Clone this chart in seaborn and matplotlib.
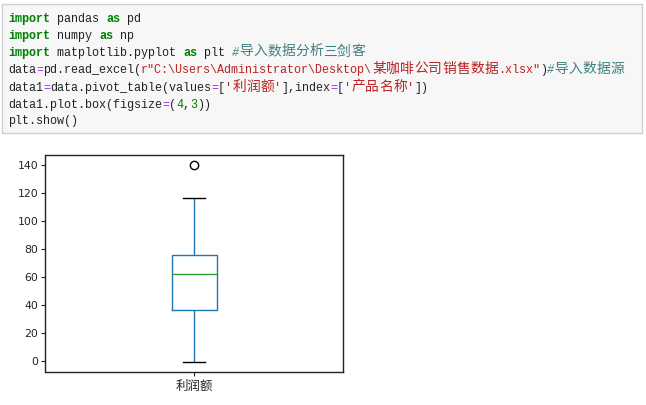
import matplotlib
matplotlib.use('Agg')
import matplotlib.pyplot as plt
from matplotlib.patches import Rectangle
import seaborn as sns
import pandas as pd

# ---------------- data ----------------
column_name = '利润额'
profit_values = [-0.7, 18.5, 36.4, 49.8, 62.2, 70.3, 75.6, 116.4, 140.0]
y_ticks = [0, 20, 40, 60, 80, 100, 120, 140]

# code cell text: (text, style)  n=normal k=keyword o=operator s=string c=comment m=number
code_lines = [
    [("import", "k"), (" pandas ", "n"), ("as", "k"), (" pd", "n")],
    [("import", "k"), (" numpy ", "n"), ("as", "k"), (" np", "n")],
    [("import", "k"), (" matplotlib.pyplot ", "n"), ("as", "k"), (" plt ", "n"),
     ("#导入数据分析三剑客", "c")],
    [("data", "n"), ("=", "o"), ("pd.read_excel(", "n"),
     ('r"C:\\Users\\Administrator\\Desktop\\某咖啡公司销售数据.xlsx"', "s"),
     (")", "n"), ("#导入数据源", "c")],
    [("data1", "n"), ("=", "o"), ("data.pivot_table(values", "n"), ("=", "o"), ("[", "n"),
     ("'利润额'", "s"), ("],index", "n"), ("=", "o"), ("[", "n"), ("'产品名称'", "s"), ("])", "n")],
    [("data1.plot.box(figsize", "n"), ("=", "o"), ("(", "n"), ("4", "m"), (",", "n"),
     ("3", "m"), ("))", "n")],
    [("plt.show()", "n")],
]

styles = {
    "n": dict(color="#222222"),
    "k": dict(color="#008000", fontweight="bold"),
    "o": dict(color="#aa22ff"),
    "s": dict(color="#ba2121"),
    "c": dict(color="#408080", fontstyle="italic"),
    "m": dict(color="#008000"),
}

W, H = 646, 405
fig = plt.figure(figsize=(W / 100, H / 100), dpi=100)
fig.patch.set_facecolor("white")
renderer = fig.canvas.get_renderer()

# code cell background
fig.patches.append(Rectangle((2 / W, 1 - 133 / H), 640 / W, 129 / H,
                             transform=fig.transFigure, facecolor="#f7f7f7",
                             edgecolor="#cfcfcf", linewidth=1.0))

# pick a monospace size whose advance is ~7 px
best = None
for fs_try in [8.0, 8.25, 8.5, 8.75, 9.0, 9.25]:
    t = fig.text(0, 0, "x" * 60, family="Liberation Mono", fontsize=fs_try)
    t2 = fig.text(0, 0, "x", family="Liberation Mono", fontsize=fs_try)
    w60 = t.get_window_extent(renderer).width
    w1 = t2.get_window_extent(renderer).width
    adv = (w60 - w1) / 59.0
    t.remove()
    t2.remove()
    if best is None or abs(adv - 7.0) < abs(best[1] - 7.0):
        best = (fs_try, adv)
FS, CW = best

X0 = 8
line_y = [18, 35, 52, 69, 87, 104, 120]


def draw_run(run, col, y, st):
    if not run.strip():
        return
    fig.text((X0 + col * CW) / W, y, run, family="Liberation Mono", fontsize=FS,
             ha="left", va="baseline", **styles[st])


for li, segs in enumerate(code_lines):
    col = 0
    y = 1 - (line_y[li] + 4) / H
    for text, st in segs:
        run = ""
        run_col = col
        for ch in text:
            if ord(ch) > 0x2E80:
                draw_run(run, run_col, y, st)
                run = ""
                kw = dict(styles[st])
                kw.pop("fontstyle", None)
                kw.pop("fontweight", None)
                fig.text((X0 + col * CW + CW) / W, y + 0.5 / H, ch,
                         family="Noto Sans CJK SC",
                         fontsize=FS + 1.4, ha="center", va="baseline", **kw)
                col += 2
            else:
                if not run:
                    run_col = col
                run += ch
                col += 1
        draw_run(run, run_col, y, st)

# ---------------- box plot ----------------
plt.rcParams["font.family"] = ["DejaVu Sans", "Noto Sans CJK SC"]
ax = fig.add_axes([45.5 / W, 1 - 372 / H, 297.5 / W, 217 / H])
df = pd.DataFrame({column_name: profit_values})
sns.boxplot(data=df, ax=ax, width=0.15, fill=False, color="#1f77b4", linewidth=1.0,
            boxprops=dict(color="#1f77b4"),
            whiskerprops=dict(color="#1f77b4"),
            medianprops=dict(color="#2ca02c"),
            capprops=dict(color="black"),
            flierprops=dict(marker="o", markersize=6, markeredgecolor="black",
                            markerfacecolor="none", markeredgewidth=1.0),
            fliersize=6)
ax.set_xlim(-0.5, 0.5)
ax.set_yticks(y_ticks)
ax.set_xlabel("")
ax.set_ylabel("")
for s in ax.spines.values():
    s.set_visible(True)
    s.set_color("#222222")
    s.set_linewidth(1.0)
ax.tick_params(axis="both", length=3, width=0.8, color="#222222", labelcolor="#222222")
ax.tick_params(axis="y", labelsize=7.8, pad=2)
ax.tick_params(axis="x", labelsize=9, pad=3)
for lbl in ax.get_xticklabels():
    lbl.set_family(["Noto Sans CJK SC", "DejaVu Sans"])

fig.savefig("out.png", dpi=100)
